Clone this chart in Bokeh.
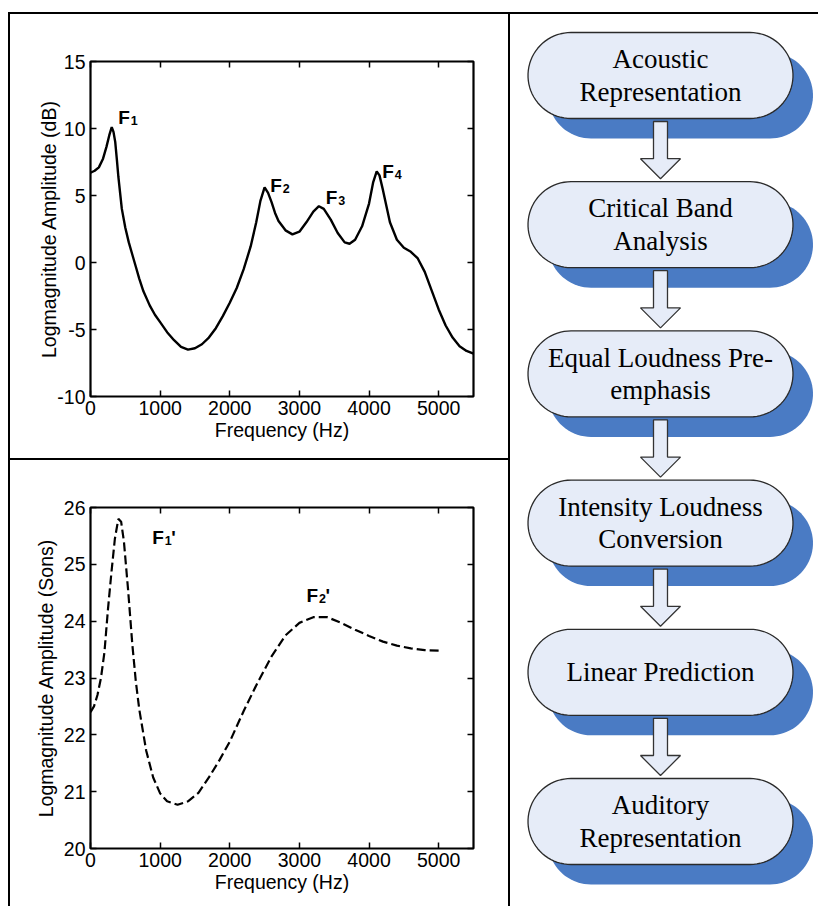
import numpy as np
from bokeh.plotting import figure
from bokeh.models import Range1d, LinearAxis, FixedTicker, Spacer
from bokeh.layouts import row, column
from bokeh.core.properties import value
from bokeh.embed import file_html
from bokeh.resources import INLINE

# ---------------- data ----------------
spec_freq = [0, 60, 120, 180, 230, 270, 305, 330, 355, 380, 400, 450, 500, 550, 600,
             650, 700, 760, 850, 925, 1000, 1100, 1200, 1300, 1400, 1500, 1600, 1700, 1800,
             1900, 2000, 2100, 2200, 2300, 2380, 2440, 2500, 2550, 2600, 2650, 2700,
             2800, 2900, 3000, 3100, 3200, 3280, 3350, 3450, 3550, 3650, 3720, 3800,
             3900, 4000, 4060, 4110, 4150, 4200, 4300, 4400, 4500, 4600, 4700, 4800,
             4900, 5000, 5100, 5200, 5300, 5400, 5500]
spec_db = [6.7, 6.85, 7.1, 7.75, 8.65, 9.5, 10.1, 9.75, 9.0, 7.6, 6.4, 4.0, 2.6, 1.5, 0.6,
           -0.3, -1.2, -2.15, -3.2, -3.9, -4.45, -5.2, -5.8, -6.3, -6.5, -6.4, -6.1, -5.6,
           -4.9, -4.0, -3.0, -1.9, -0.5, 1.2, 3.0, 4.6, 5.6, 5.2, 4.5, 3.7, 3.1,
           2.4, 2.1, 2.3, 3.0, 3.8, 4.2, 4.0, 3.2, 2.2, 1.5, 1.4, 1.7,
           2.7, 4.4, 6.0, 6.8, 6.5, 5.4, 3.0, 1.7, 1.1, 0.8, 0.3, -0.7,
           -2.1, -3.5, -4.7, -5.6, -6.25, -6.6, -6.8]

loud_freq = [0, 50, 100, 150, 200, 250, 300, 350, 400, 440, 480, 540, 600, 650, 700,
             800, 900, 1000, 1100, 1250, 1400, 1550, 1700, 1850, 2000, 2200, 2400, 2600,
             2800, 3000, 3200, 3400, 3600, 3800, 4000, 4200, 4400, 4600, 4800, 5040]
loud_sons = [22.40, 22.50, 22.70, 23.00, 23.45, 24.20, 24.85, 25.45, 25.80, 25.75, 25.40,
             24.55, 23.60, 22.95, 22.45, 21.72, 21.25, 20.97, 20.83, 20.77, 20.83, 20.98,
             21.25, 21.55, 21.88, 22.42, 22.92, 23.38, 23.75, 23.97, 24.07, 24.07, 23.97,
             23.85, 23.74, 23.64, 23.57, 23.52, 23.49, 23.48]

top_xticks = [0, 1000, 2000, 3000, 4000, 5000]
top_yticks = [-10, -5, 0, 5, 10, 15]
bot_xticks = [0, 1000, 2000, 3000, 4000, 5000]
bot_yticks = [20, 21, 22, 23, 24, 25, 26]

top_formant_sub = ["1", "2", "3", "4"]
top_formant_x = [400, 2580, 3380, 4190]
top_formant_y = [10.83, 5.72, 4.84, 6.79]

bot_formant_sub = ["1", "2"]
bot_formant_x = [886, 3103]
bot_formant_y = [25.48, 24.45]

steps = ["Acoustic\nRepresentation", "Critical Band\nAnalysis",
         "Equal Loudness Pre-\nemphasis", "Intensity Loudness\nConversion",
         "Linear Prediction", "Auditory\nRepresentation"]

SANS_NAME = "Liberation Sans"
SANS = value(SANS_NAME)
SERIF = value("Liberation Serif")


def style_axes(p, xticks, yticks, xlabel, ylabel, ylabel_standoff):
    p.xgrid.visible = False
    p.ygrid.visible = False
    p.outline_line_color = "black"
    p.outline_line_width = 2.2
    p.background_fill_color = "white"
    p.border_fill_color = "white"
    p.xaxis.ticker = FixedTicker(ticks=xticks)
    p.yaxis.ticker = FixedTicker(ticks=yticks)
    p.yaxis.major_label_overrides = {t: str(t) for t in yticks}
    p.xaxis.axis_label = xlabel
    p.yaxis.axis_label = ylabel
    for ax in p.xaxis + p.yaxis:
        ax.axis_line_color = None
        ax.major_tick_in = 6
        ax.major_tick_out = 0
        ax.major_tick_line_width = 1.5
        ax.minor_tick_line_color = None
        ax.major_label_text_font = SANS_NAME
        ax.major_label_text_font_size = "19.5px"
        ax.major_label_text_color = "black"
        ax.axis_label_text_font = SANS_NAME
        ax.axis_label_text_font_size = "19.5px"
        ax.axis_label_text_font_style = "normal"
        ax.axis_label_text_color = "black"
    p.xaxis.major_label_standoff = 4
    p.xaxis.axis_label_standoff = 1
    p.yaxis.major_label_standoff = 5
    p.yaxis.axis_label_standoff = ylabel_standoff
    top = LinearAxis(ticker=FixedTicker(ticks=xticks))
    right = LinearAxis(ticker=FixedTicker(ticks=yticks))
    for ax in (top, right):
        ax.axis_line_color = None
        ax.major_tick_in = 6
        ax.major_tick_out = 0
        ax.major_tick_line_width = 1.5
        ax.minor_tick_line_color = None
        ax.major_label_text_color = None
    p.add_layout(top, "above")
    p.add_layout(right, "right")


# ---------------- top-left spectrum ----------------
p1 = figure(width=498, height=444, x_range=Range1d(0, 5500), y_range=Range1d(-10, 15),
            output_backend="svg", toolbar_location=None,
            min_border_left=78, min_border_right=35, min_border_top=47, min_border_bottom=62)
style_axes(p1, top_xticks, top_yticks, "Frequency (Hz)", "Logmagnitude Amplitude (dB)", -6)
p1.line(spec_freq, spec_db, line_color="black", line_width=2.4)
p1.text(x=top_formant_x, y=top_formant_y, text=["F"] * len(top_formant_x),
        text_font=SANS, text_font_style="bold", text_font_size="19px",
        text_baseline="alphabetic", text_align="left", text_color="black")
p1.text(x=top_formant_x, y=top_formant_y, text=top_formant_sub,
        text_font=SANS, text_font_style="bold", text_font_size="12.5px",
        text_baseline="alphabetic", text_align="left", text_color="black",
        x_offset=12.5, y_offset=3)

# ---------------- bottom-left loudness ----------------
p2 = figure(width=498, height=446, x_range=Range1d(0, 5500), y_range=Range1d(20, 26),
            output_backend="svg", toolbar_location=None,
            min_border_left=80, min_border_right=25, min_border_top=47, min_border_bottom=58)
style_axes(p2, bot_xticks, bot_yticks, "Frequency (Hz)", "Logmagnitude Amplitude (Sons)", 4)
p2.line(loud_freq, loud_sons, line_color="black", line_width=2.2, line_dash="9 4")
p2.text(x=bot_formant_x, y=bot_formant_y, text=["F"] * len(bot_formant_x),
        text_font=SANS, text_font_style="bold", text_font_size="19px",
        text_baseline="alphabetic", text_align="left", text_color="black")
p2.text(x=bot_formant_x, y=bot_formant_y, text=bot_formant_sub,
        text_font=SANS, text_font_style="bold", text_font_size="12.5px",
        text_baseline="alphabetic", text_align="left", text_color="black",
        x_offset=12.5, y_offset=3)
p2.text(x=bot_formant_x, y=bot_formant_y, text=["'"] * len(bot_formant_x),
        text_font=SANS, text_font_style="bold", text_font_size="19px",
        text_baseline="alphabetic", text_align="left", text_color="black",
        x_offset=19)

# ---------------- right flowchart ----------------
FW, FH = 308, 892
p3 = figure(width=FW, height=FH, x_range=Range1d(0, FW), y_range=Range1d(FH, 0),
            output_backend="svg", toolbar_location=None,
            min_border=0, min_border_left=0, min_border_right=0,
            min_border_top=0, min_border_bottom=0)
p3.axis.visible = False
p3.grid.visible = False
p3.outline_line_color = None
p3.background_fill_color = "white"
p3.border_fill_color = "white"

CX = 150.0
TOP0, STEP, PH, PW = 18.0, 149.2, 86.0, 265.0
SDX, SDY = 20.0, 20.0


def pill(cx, cy, w, h):
    r = h / 2.0
    t1 = np.linspace(-np.pi / 2, np.pi / 2, 40)
    t2 = np.linspace(np.pi / 2, 3 * np.pi / 2, 40)
    xs = np.concatenate([cx + w / 2 - r + r * np.cos(t1), cx - w / 2 + r + r * np.cos(t2)])
    ys = np.concatenate([cy + r * np.sin(t1), cy + r * np.sin(t2)])
    return list(xs), list(ys)


sh_xs, sh_ys, pl_xs, pl_ys = [], [], [], []
tx, ty, tt = [], [], []
for i, s in enumerate(steps):
    cy = TOP0 + i * STEP + PH / 2
    x, y = pill(CX + SDX, cy + SDY, PW, PH)
    sh_xs.append(x); sh_ys.append(y)
    x, y = pill(CX, cy, PW, PH)
    pl_xs.append(x); pl_ys.append(y)
    lines = s.split("\n")
    n = len(lines)
    for k, ln in enumerate(lines):
        tx.append(CX)
        ty.append(cy + (k - (n - 1) / 2) * 32.5)
        tt.append(ln)

ar_xs, ar_ys = [], []
for i in range(len(steps) - 1):
    b = TOP0 + i * STEP + PH
    t = TOP0 + (i + 1) * STEP
    y0, y1, y2 = b + 3, t - 23, t - 3
    ar_xs.append([CX - 7, CX + 7, CX + 7, CX + 20, CX, CX - 20, CX - 7])
    ar_ys.append([y0, y0, y1, y1, y2, y1, y1])

p3.patches(sh_xs, sh_ys, fill_color="#4A7BC4", line_color=None)
p3.patches(pl_xs, pl_ys, fill_color="#E6ECF8", line_color="#2a2a2a", line_width=1.3)
p3.patches(ar_xs, ar_ys, fill_color="#E6ECF8", line_color="#333333", line_width=1.3)
p3.text(x=tx, y=ty, text=tt, text_font=SERIF, text_font_size="27px",
        text_align="center", text_baseline="middle", text_color="black")

# ---------------- layout with table lines ----------------
BLACK = {"background-color": "black"}
BODY_H = 892
top_line = Spacer(width=810, height=2, styles=BLACK)
left_line = Spacer(width=2, height=BODY_H, styles=BLACK)
mid_vline = Spacer(width=2, height=BODY_H, styles=BLACK)
mid_hline = Spacer(width=498, height=2, styles=BLACK)
left_col = column(p1, mid_hline, p2, spacing=0)
body = row(left_line, left_col, mid_vline, p3, spacing=0)
framed = column(top_line, body, spacing=0)
page = column(Spacer(width=818, height=12),
              row(Spacer(width=8, height=BODY_H + 2), framed, spacing=0),
              spacing=0)

open("out.html", "w").write(file_html(page, INLINE))
